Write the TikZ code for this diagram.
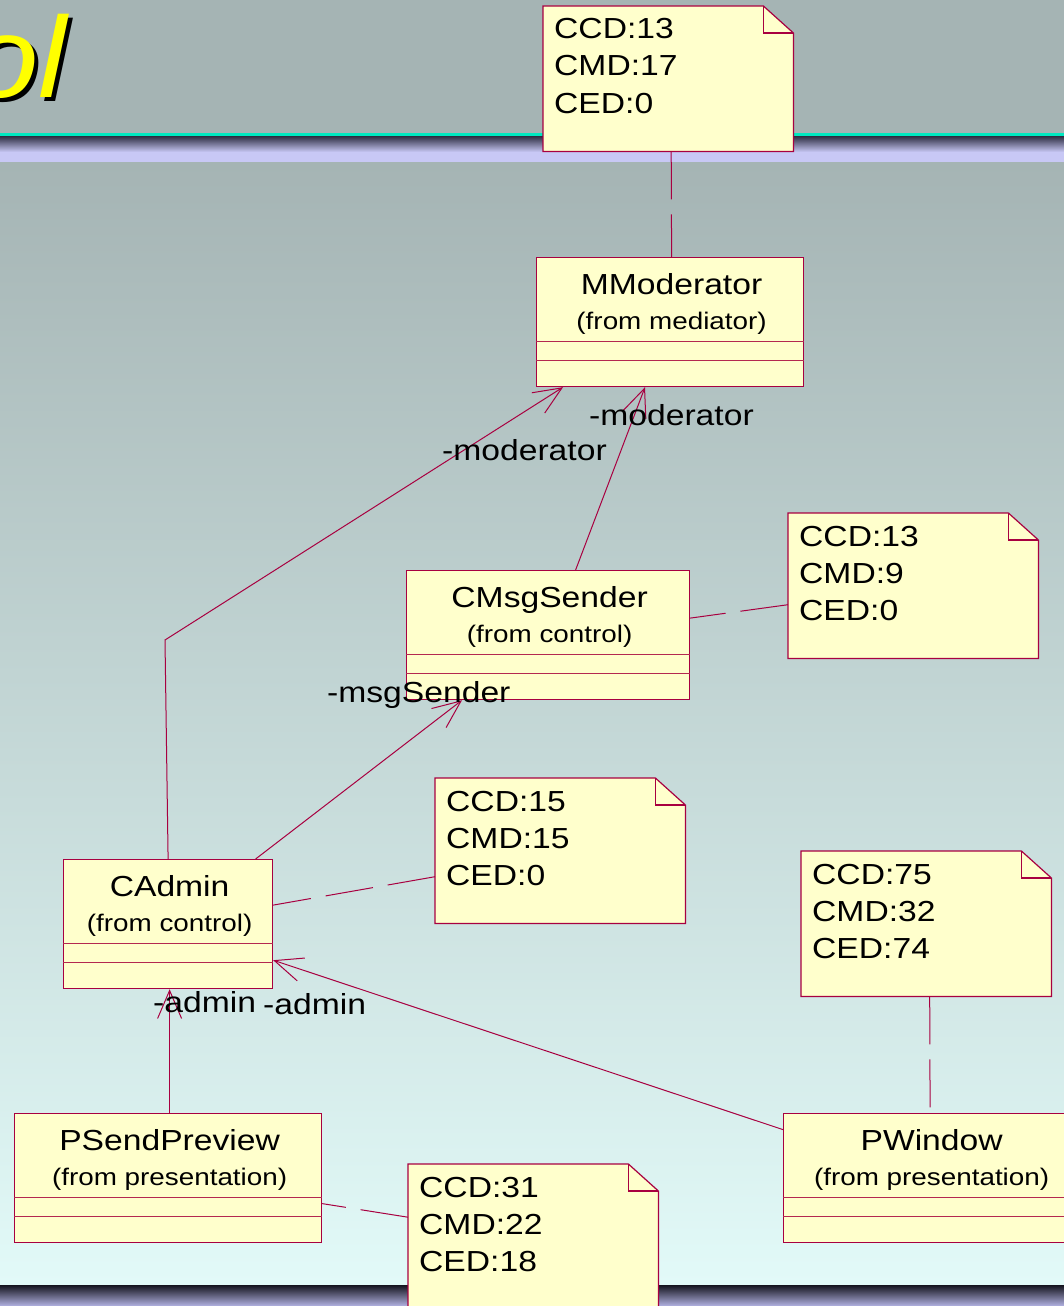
\documentclass[tikz,border=0pt]{standalone}
\usepackage{fontspec}
\usetikzlibrary{arrows.meta}
\newfontfamily\umlfont{Liberation Sans}[FakeStretch=1.16]
\newfontfamily\titlefont{Liberation Sans}[FakeStretch=1.1]

\definecolor{linecol}{RGB}{168,0,64}
\definecolor{sepcol}{RGB}{180,40,80}
\definecolor{paper}{RGB}{255,255,204}
\definecolor{topgray}{RGB}{165,180,180}
\definecolor{tealline}{RGB}{0,232,192}
\definecolor{banddark}{RGB}{45,45,65}
\definecolor{bandlight}{RGB}{200,200,245}
\definecolor{lightcyan}{RGB}{226,250,248}
\definecolor{bottomdark}{RGB}{20,20,30}
\definecolor{bottomlight}{RGB}{178,178,226}
\definecolor{titleyellow}{RGB}{255,255,0}

\tikzset{
  bigtext/.style={font=\umlfont\fontsize{29}{37}\selectfont, inner sep=0pt, text=black},
  smalltext/.style={font=\umlfont\fontsize{24}{28}\selectfont, inner sep=0pt, text=black},
  classbox/.style={draw=linecol, fill=paper, line width=1.2pt, minimum height=129pt, inner sep=0pt},
  sepline/.style={draw=sepcol, line width=1pt},
  notebox/.style={minimum width=250pt, minimum height=145pt, inner sep=0pt},
  noteline/.style={draw=linecol, line width=1.2pt, line join=miter},
  notelink/.style={draw=linecol, line width=1pt, dash pattern=on 48pt off 15pt},
  assoc/.style={draw=linecol, line width=1pt, -{Straight Barb[length=28pt,width=24pt,line width=1pt]}},
}

% UML class: name, x, y (top left), width, title, package line
\newcommand\umlclass[6]{%
  \node[classbox, minimum width=#4pt, anchor=north west] (#1) at (#2,#3) {};
  \draw[sepline] ([yshift=-84pt]#1.north west) -- ([yshift=-84pt]#1.north east);
  \draw[sepline] ([yshift=-103pt]#1.north west) -- ([yshift=-103pt]#1.north east);
  \node[bigtext, anchor=base] (#1-name) at ([xshift=1.5pt,yshift=-37pt]#1.north) {#5};
  \node[smalltext, anchor=base] (#1-from) at ([xshift=1.5pt,yshift=-72pt]#1.north) {#6};
}

% Note with a folded corner: name, x, y (top left), three metric lines
\newcommand\umlnote[6]{%
  \node[notebox, anchor=north west] (#1) at (#2,#3) {};
  \filldraw[noteline, fill=paper] (#1.north west) -- ([xshift=-30pt]#1.north east)
    -- ([yshift=-27pt]#1.north east) -- (#1.south east) -- (#1.south west) -- cycle;
  \draw[noteline] ([xshift=-30pt]#1.north east) -- ([xshift=-30pt,yshift=-27pt]#1.north east)
    -- ([yshift=-27pt]#1.north east);
  \node[bigtext, anchor=base west] (#1-a) at ([xshift=11pt,yshift=-33pt]#1.north west) {#4};
  \node[bigtext, anchor=base west] (#1-b) at ([xshift=11pt,yshift=-70pt]#1.north west) {#5};
  \node[bigtext, anchor=base west] (#1-c) at ([xshift=11pt,yshift=-107pt]#1.north west) {#6};
}

\begin{document}
\begin{tikzpicture}[x=1pt,y=-1pt]
\useasboundingbox (0,0) rectangle (1064,1306);
\clip (0,0) rectangle (1064,1306);

% slide background
\fill[topgray] (0,0) rectangle (1064,134);
\fill[tealline] (0,133) rectangle (1064,136);
\shade[top color=banddark, bottom color=bandlight] (0,136) rectangle (1064,152);
\fill[bandlight] (0,152) rectangle (1064,162);
\shade[top color=topgray, bottom color=lightcyan] (0,162) rectangle (1064,1285);
\shade[top color=bottomdark, bottom color=bottomlight] (0,1285) rectangle (1064,1306);

% title fragment with drop shadow
\node[anchor=base east, inner sep=0pt, text=black,
      font=\titlefont\itshape\fontsize{115}{115}\selectfont] (titleshadow) at (71,101) {ol};
\node[anchor=base east, inner sep=0pt, text=titleyellow,
      font=\titlefont\itshape\fontsize{115}{115}\selectfont] (title) at (67,97) {ol};

% classes
\umlclass{mmod}{536}{257}{267}{MModerator}{(from mediator)}
\umlclass{cms}{406}{570}{283}{CMsgSender}{(from control)}
\umlclass{cadmin}{63}{859}{209}{CAdmin}{(from control)}
\umlclass{psend}{14}{1113}{307}{PSendPreview}{(from presentation)}
\umlclass{pwin}{783}{1113}{293}{PWindow}{(from presentation)}

% associations
\coordinate (bend) at (165,640);
\draw[assoc] (cadmin.north) -- (bend) -- ([xshift=27pt]mmod.south west);
\draw[assoc] ([xshift=27.5pt]cms.north) -- ([xshift=109pt]mmod.south west);
\draw[assoc] ([xshift=87.5pt]cadmin.north) -- ([xshift=56pt]cms.south west);
\draw[assoc] ([xshift=1.5pt]psend.north) -- ([xshift=1.5pt]cadmin.south);
\draw[assoc] ([yshift=48.5pt]pwin.west) -- ([yshift=29pt]cadmin.south east);

% role names
\node[bigtext, anchor=base west] (roleA) at (442,460) {-moderator};
\node[bigtext, anchor=base west] (roleB) at (589,425) {-moderator};
\node[bigtext, anchor=base west] (roleC) at (327,702) {-msgSender};
\node[bigtext, anchor=base west] (roleD) at (153,1012) {-admin};
\node[bigtext, anchor=base west] (roleE) at (263,1014) {-admin};

% metric notes
\umlnote{n1}{543}{6}{CCD:13}{CMD:17}{CED:0}
\umlnote{n2}{788}{513}{CCD:13}{CMD:9}{CED:0}
\umlnote{n3}{435}{778}{CCD:15}{CMD:15}{CED:0}
\umlnote{n4}{801}{851}{CCD:75}{CMD:32}{CED:74}
\umlnote{n5}{408}{1164}{CCD:31}{CMD:22}{CED:18}

% note attachments
\draw[notelink] ([xshift=3pt]n1.south) -- ([xshift=1.5pt]mmod.north);
\draw[notelink] ([yshift=-19pt]n2.west) -- ([yshift=17pt]cms.east);
\draw[notelink] ([yshift=-26pt]n3.west) -- ([yshift=19pt]cadmin.east);
\draw[notelink] ([xshift=3.5pt]n4.south) -- (pwin.north);
\draw[notelink] ([yshift=19.5pt]n5.west) -- ([yshift=-25.5pt]psend.east);
\end{tikzpicture}
\end{document}
